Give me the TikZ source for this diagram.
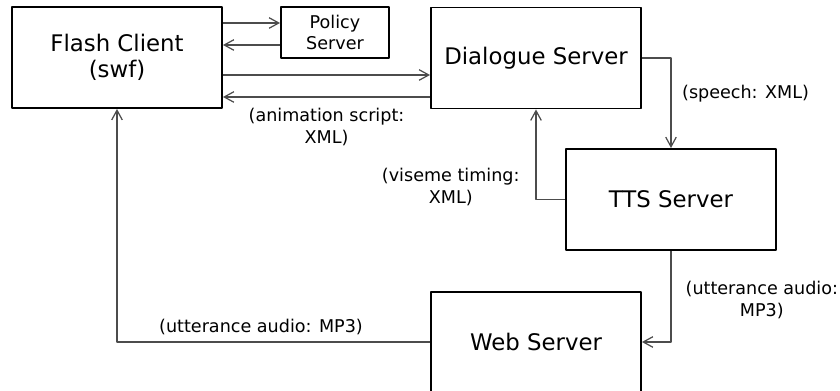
\documentclass[tikz,border=0pt]{standalone}
\usepackage{fontspec}
\setmainfont{DejaVu Sans}
\usetikzlibrary{arrows.meta}

\begin{document}
\begin{tikzpicture}[x=0.02cm, y=-0.02cm, line join=round, >={Straight Barb[length=5.5pt,width=6pt]},
	server/.style={draw, line width=1.1pt, minimum width=4.2cm, minimum height=2.02cm, inner sep=0pt, align=center, font=\fontsize{13}{14.5}\selectfont},
	small/.style={draw, line width=1.1pt, minimum width=2.16cm, minimum height=1.02cm, inner sep=0pt, align=center, font=\fontsize{10}{11.5}\selectfont},
	msg/.style={font=\fontsize{10}{12.5}\selectfont, align=center, inner sep=0pt},
	flow/.style={->, draw=black!70, line width=0.7pt}]
	\useasboundingbox (0,0) rectangle (840,391);

	\node[server] (flash) at (117,57.5) {Flash Client\\(swf)};
	\node[small] (policy) at (335,32.5) {Policy\\Server};
	\node[server] (dialogue) at (536,58) {Dialogue Server};
	\node[server] (tts) at (671,199.5) {TTS Server};
	\node[server, minimum height=2cm] (web) at (536,342) {Web Server};

	\draw[flow] ([yshift=0.19cm]policy.west -| flash.east) -- ([yshift=0.19cm]policy.west);
	\draw[flow] ([yshift=-0.25cm]policy.west) -- ([yshift=-0.25cm]policy.west -| flash.east);
	\draw[flow] ([yshift=-0.34cm]dialogue.west -| flash.east) -- ([yshift=-0.34cm]dialogue.west);
	\draw[flow] ([yshift=-0.78cm]dialogue.west) -- ([yshift=-0.78cm]dialogue.west -| flash.east)
		node[msg, midway, below=6pt] {(animation script:\\XML)};

	\draw[flow] (dialogue.east) -| (tts.north)
		node[msg, pos=0.7, right=6pt] {(speech: XML)};
	\draw[flow] (tts.west) -| (dialogue.south)
		node[msg, pos=0.57, left=9pt] {(viseme timing:\\XML)};
	\draw[flow] (tts.south) |- (web.east)
		node[msg, pos=0.27, right=8pt] {(utterance audio:\\MP3)};
	\draw[flow] (web.west) -| (flash.south)
		node[msg, pos=0.27, above=4pt] {(utterance audio: MP3)};
\end{tikzpicture}
\end{document}
